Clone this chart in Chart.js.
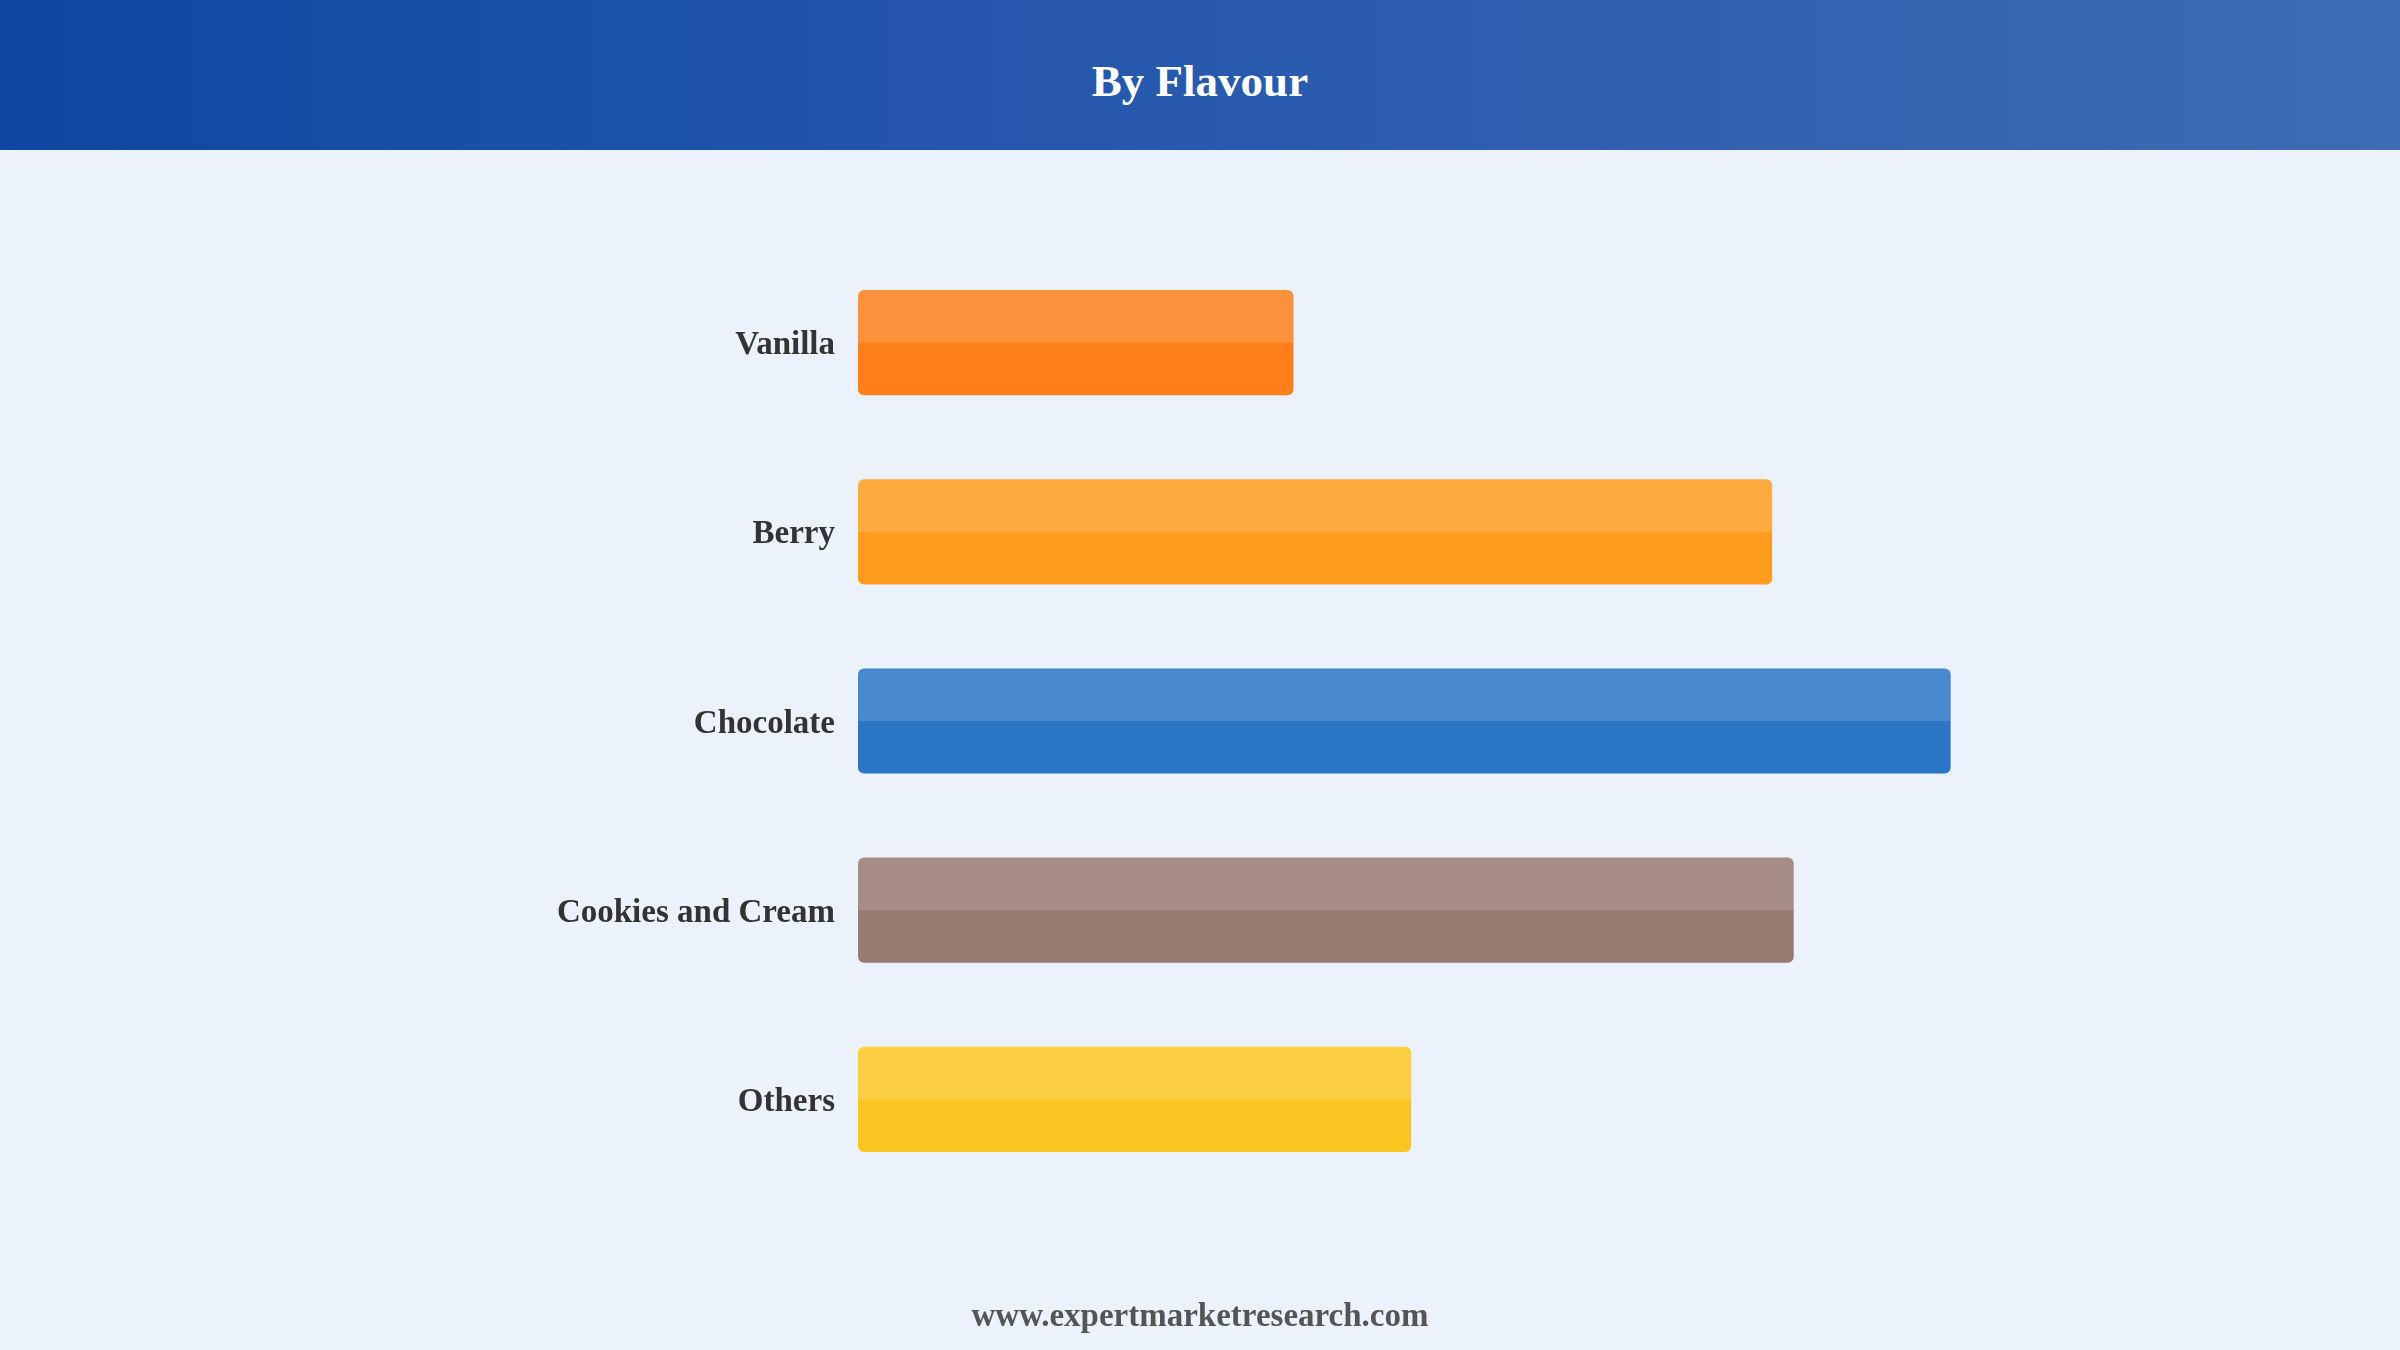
<!DOCTYPE html>
<html>
<head>
<meta charset="utf-8">
<script src="https://cdn.jsdelivr.net/npm/chart.js@4"></script>
<style>
  html, body { margin:0; padding:0; width:2400px; height:1350px; background:#EBF2FB; overflow:hidden; }
  #header { position:absolute; left:0; top:0; width:2400px; height:150px;
    background: linear-gradient(90deg, #0E47A1 0%, #2356AC 40%, #3D6CB4 100%); }
  #title { position:absolute; left:0; top:0; width:2400px; height:162px; line-height:162px; text-align:center;
    color:#fff; font-family:"Liberation Serif","Times New Roman",serif; font-weight:bold; font-size:45px; }
  #footer { position:absolute; left:0; top:1297px; width:2400px; text-align:center; color:#555;
    font-family:"Liberation Serif","Times New Roman",serif; font-weight:bold; font-size:33px; }
  #wrap { position:absolute; left:0; top:0; width:2400px; height:1350px; }
</style>
</head>
<body>
<div id="header"></div>
<div id="title">By Flavour</div>
<div id="wrap"><canvas id="c" width="2400" height="1350"></canvas></div>
<div id="footer">www.expertmarketresearch.com</div>
<script>
const categories = ["Vanilla", "Berry", "Chocolate", "Cookies and Cream", "Others"];
const shares = [11.1, 23.3, 27.85, 23.85, 14.1];
const barColors = ["#FE7F1A", "#FF9C1E", "#2A75C6", "#977A71", "#FCC622"];
const axisMax = 30;

const highlightPlugin = {
  id: 'highlight',
  afterDatasetsDraw(chart) {
    const ctx = chart.ctx;
    const meta = chart.getDatasetMeta(0);
    ctx.save();
    meta.data.forEach(bar => {
      const left = Math.min(bar.base, bar.x);
      const right = Math.max(bar.base, bar.x);
      const top = bar.y - bar.height / 2;
      const h = bar.height / 2;
      const r = 6;
      ctx.fillStyle = 'rgba(255,255,255,0.15)';
      ctx.beginPath();
      ctx.moveTo(left + r, top);
      ctx.lineTo(right - r, top);
      ctx.quadraticCurveTo(right, top, right, top + r);
      ctx.lineTo(right, top + h);
      ctx.lineTo(left, top + h);
      ctx.lineTo(left, top + r);
      ctx.quadraticCurveTo(left, top, left + r, top);
      ctx.closePath();
      ctx.fill();
    });
    ctx.restore();
  }
};

new Chart(document.getElementById('c'), {
  type: 'bar',
  data: {
    labels: categories,
    datasets: [{
      data: shares,
      backgroundColor: barColors,
      borderRadius: 6,
      borderSkipped: false,
      barPercentage: 0.8,
      categoryPercentage: 0.695
    }]
  },
  plugins: [highlightPlugin],
  options: {
    indexAxis: 'y',
    responsive: false,
    animation: false,
    layout: { padding: { left: 0, right: 365, top: 248, bottom: 156 } },
    plugins: { legend: { display: false }, tooltip: { enabled: false }, title: { display: false } },
    scales: {
      x: { display: false, min: 0, max: axisMax },
      y: {
        grid: { display: false },
        border: { display: false },
        afterFit(scale) { scale.width = 858; },
        ticks: {
          padding: 15,
          labelOffset: 3,
          color: '#333',
          font: { family: '"Liberation Serif","Times New Roman",serif', weight: 'bold', size: 33 }
        }
      }
    }
  }
});
</script>
</body>
</html>
